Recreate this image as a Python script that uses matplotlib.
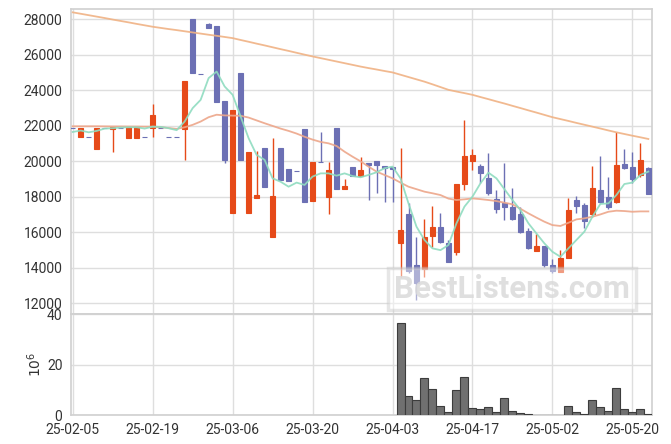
import numpy as np
import matplotlib
matplotlib.use("Agg")
import matplotlib.pyplot as plt

plt.rcParams['font.family'] = ['Roboto', 'DejaVu Sans']

# trading days (yy-mm-dd)
dates = ['25-02-05', '25-02-06', '25-02-07', '25-02-10', '25-02-11', '25-02-12', '25-02-13',
         '25-02-14', '25-02-17', '25-02-18', '25-02-19', '25-02-20', '25-02-21', '25-02-24',
         '25-02-25', '25-02-26', '25-02-27', '25-02-28', '25-03-04', '25-03-05', '25-03-06',
         '25-03-07', '25-03-10', '25-03-11', '25-03-12', '25-03-13', '25-03-14', '25-03-17',
         '25-03-18', '25-03-19', '25-03-20', '25-03-21', '25-03-24', '25-03-25', '25-03-26',
         '25-03-27', '25-03-28', '25-03-31', '25-04-01', '25-04-02', '25-04-03', '25-04-04',
         '25-04-07', '25-04-08', '25-04-09', '25-04-10', '25-04-11', '25-04-14', '25-04-15',
         '25-04-16', '25-04-17', '25-04-18', '25-04-21', '25-04-22', '25-04-23', '25-04-24',
         '25-04-25', '25-04-28', '25-04-29', '25-04-30', '25-05-02', '25-05-07', '25-05-08',
         '25-05-09', '25-05-12', '25-05-13', '25-05-14', '25-05-15', '25-05-16', '25-05-19',
         '25-05-20', '25-05-21', '25-05-22']

opens = [21900, 21350, 21350, 20700, 21900, 21800, 21900, 21330, 21330, 21350,
         21900, 21900, 21350, 21350, 21800, 28000, 24900, 27700, 27600, 23400,
         17070, 24950, 17070, 17950, 20750, 15750, 20750, 19550, 19440, 21820,
         17780, 19950, 18010, 21880, 18460, 19680, 19190, 19890, 20020, 19740,
         19700, 15380, 17030, 14160, 13950, 15810, 16300, 15380, 14910, 18700,
         20040, 19740, 19040, 17860, 17630, 17410, 17030, 16090, 14970, 15250,
         14160, 13780, 14570, 17820, 17540, 17030, 18390, 17970, 17690, 19850,
         19680, 19230, 19610]
highs = [21900, 21900, 21350, 21900, 21900, 21950, 21900, 21950, 21950, 21350,
         23200, 21900, 21350, 21350, 24500, 28000, 24900, 27800, 27600, 23400,
         22900, 24950, 20500, 20560, 20750, 21300, 20750, 19550, 19440, 21820,
         19960, 21670, 19980, 21880, 18990, 19680, 20240, 19890, 20020, 19740,
         19700, 20730, 17670, 15760, 16770, 17480, 17110, 15570, 18720, 22330,
         20680, 19830, 20450, 18390, 19890, 18480, 17450, 16230, 15910, 15250,
         14480, 15000, 17950, 18050, 17630, 19740, 20300, 19100, 21620, 20680,
         20540, 21010, 19660]
lows = [21900, 21350, 21350, 20700, 21900, 20550, 21900, 21330, 21330, 21350,
        21350, 21900, 21350, 21350, 20100, 24950, 24900, 27500, 23350, 19900,
        17070, 20050, 17070, 17950, 18535, 15750, 18970, 18910, 19440, 17730,
        17780, 19950, 17030, 18460, 18460, 19190, 19190, 17820, 18200, 17730,
        17730, 13500, 13690, 12190, 13500, 15190, 15380, 14350, 14720, 18370,
        19510, 18760, 18100, 17070, 16700, 16680, 15980, 15060, 14970, 14030,
        13730, 13780, 14570, 17070, 16230, 16880, 17630, 17310, 17630, 19550,
        18760, 19100, 18160]
closes = [21900, 21900, 21350, 21900, 21900, 21950, 21900, 21950, 21950, 21350,
          22600, 21900, 21350, 21350, 24500, 24950, 24900, 27500, 23350, 20050,
          22900, 20050, 20500, 18080, 18535, 18050, 18970, 18910, 19440, 17730,
          19960, 19950, 19510, 18460, 18610, 19190, 19510, 19810, 19780, 19640,
          19590, 16130, 13840, 13160, 15720, 16300, 15470, 14350, 18720, 20300,
          20340, 19320, 18200, 17300, 17410, 16730, 16040, 15140, 15230, 14160,
          13840, 14550, 17260, 17500, 16660, 18480, 17730, 17450, 19790, 19620,
          19000, 20080, 18160]

ma5 = [21650, 21730, 21630, 21710, 21840, 21860, 21900, 21915, 21915, 21840,
       21950, 21935, 21860, 21750, 22235, 22990, 23455, 24680, 25050, 24210,
       23740, 22520, 21300, 20360, 20080, 19040, 18850, 18570, 18800, 18670,
       19140, 19320, 19320, 19190, 19320, 19170, 19100, 19230, 19380, 19610,
       19700, 19040, 17630, 16320, 15570, 15100, 15000, 15290, 16510, 17450,
       18010, 18760, 19360, 19040, 18430, 17820, 17260, 16510, 15940, 15380,
       14910, 14630, 15100, 15570, 16040, 16880, 17600, 17630, 18100, 18720,
       18800, 19230, 19420]
ma20 = [21970, 21970, 21970, 21970, 21965, 21960, 21960, 21955, 21955, 21950,
        21950, 21920, 21870, 21820, 21915, 22050, 22235, 22480, 22620, 22580,
        22570, 22560, 22460, 22300, 22140, 21990, 21840, 21710, 21560, 21380,
        21220, 21090, 21010, 20860, 20540, 20260, 20000, 19700, 19420, 19230,
        19040, 18800, 18570, 18430, 18290, 18200, 18100, 17900, 17820, 17860,
        17910, 17870, 17820, 17760, 17670, 17580, 17330, 17070, 16830, 16600,
        16410, 16360, 16540, 16730, 16790, 16880, 17010, 17160, 17220, 17200,
        17160, 17180, 17180]
ma120 = [28380, 28300, 28220, 28140, 28060, 27975, 27895, 27815, 27730, 27650,
         27570, 27505, 27440, 27380, 27315, 27250, 27185, 27120, 27060, 26995,
         26930, 26825, 26725, 26620, 26520, 26415, 26310, 26210, 26105, 26000,
         25900, 25805, 25710, 25615, 25520, 25425, 25330, 25245, 25165, 25080,
         25000, 24870, 24740, 24610, 24480, 24330, 24175, 24020, 23925, 23835,
         23740, 23615, 23495, 23370, 23250, 23120, 22995, 22865, 22740, 22610,
         22480, 22375, 22270, 22160, 22055, 21950, 21845, 21735, 21630, 21535,
         21440, 21350, 21255]

# volume (millions), only reported from 25-04-04 on
vol_start = 41
volume = [36.5, 7.4, 6.0, 14.6, 10.2, 3.5, 1.1, 9.8, 15.0, 2.7, 2.3, 3.1, 1.1,
          6.6, 1.5, 0.7, 0.3, 0.2, 0.2, 0.2, 0.2, 3.5, 1.1, 0.3, 5.8, 3.1, 1.5,
          10.6, 2.3, 1.1, 2.3, 0.3]

up_col = '#e64a19'
down_col = '#6c70b4'
grid_col = '#dedede'
spine_col = '#d0d0d0'

fig = plt.figure(figsize=(6.71, 4.44), dpi=100)
ax = fig.add_axes([0.1054, 0.2917, 0.8656, 0.6873])
axv = fig.add_axes([0.1054, 0.0653, 0.8656, 0.2264], sharex=ax)

x = np.arange(len(dates))
o = np.array(opens)
c = np.array(closes)
cols = [up_col if c[k] > o[k] else down_col for k in range(len(x))]

ax.vlines(x, lows, highs, colors=cols, linewidth=1.0, zorder=2)
ax.bar(x, np.abs(c - o), bottom=np.minimum(o, c), width=0.6, color=cols,
       edgecolor=cols, linewidth=0.8, zorder=3)

ax.plot(x, ma120, color='#f0b284', linewidth=1.3, alpha=0.9, zorder=4)
ax.plot(x, ma20, color='#eda68a', linewidth=1.3, alpha=0.9, zorder=4)
ax.plot(x, ma5, color='#8fdcc0', linewidth=1.3, alpha=0.9, zorder=4)

xv = np.arange(vol_start, vol_start + len(volume))
axv.bar(xv, volume, width=1.0, color='#707070', edgecolor='#3c3c3c',
        linewidth=0.8, zorder=3)

ax.set_xlim(-0.25, 72.4)
ax.set_ylim(11380, 28550)
ax.set_yticks(np.arange(12000, 28001, 2000))
axv.set_ylim(0, 40)
axv.set_yticks([0, 20, 40])
axv.set_ylabel('$10^6$', fontsize=10, color='#333333', labelpad=2)

tick_pos = list(range(0, len(dates), 10))
axv.set_xticks(tick_pos)
axv.set_xticklabels([dates[k] for k in tick_pos])
plt.setp(ax.get_xticklabels(), visible=False)

for a in (ax, axv):
    a.grid(True, color=grid_col, linewidth=1.0, zorder=0)
    a.set_axisbelow(True)
    a.tick_params(length=0, labelsize=10, colors='#333333', pad=6)
    for s in a.spines.values():
        s.set_color(spine_col)
        s.set_linewidth(1.2)

# watermark
ax.text(0.760, 0.083, 'BestListens.com', transform=ax.transAxes, ha='center',
        va='center', fontsize=22.5, fontweight='bold', color='#dadada', alpha=0.85,
        zorder=6,
        bbox=dict(boxstyle='square,pad=0.2', facecolor='white', alpha=0.45,
                  edgecolor='#c8c8c8', linewidth=2.5))

fig.savefig('out.png', dpi=100)
